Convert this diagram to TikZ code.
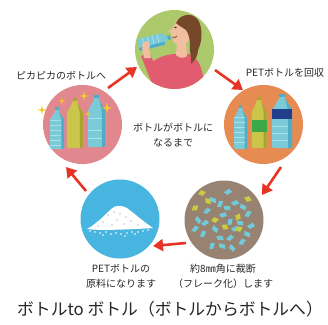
\documentclass[tikz,border=0pt]{standalone}
\usepackage{fontspec}
\setmainfont{Noto Sans CJK JP}
\usetikzlibrary{arrows.meta}

\definecolor{cgreen}{RGB}{172,202,108}
\definecolor{cpink}{RGB}{224,136,142}
\definecolor{corange}{RGB}{230,140,82}
\definecolor{cbrown}{RGB}{152,130,114}
\definecolor{cblue}{RGB}{72,180,224}
\definecolor{cred}{RGB}{232,52,36}
\definecolor{bottleblue}{RGB}{122,202,216}
\definecolor{bottleshade}{RGB}{78,172,198}
\definecolor{bottlerib}{RGB}{170,224,232}
\definecolor{bottleyel}{RGB}{202,198,74}
\definecolor{bottleyelshade}{RGB}{168,164,48}
\definecolor{labelgreen}{RGB}{60,168,72}
\definecolor{labelblue}{RGB}{32,62,140}
\definecolor{spark}{RGB}{246,202,40}
\definecolor{skin}{RGB}{242,190,160}
\definecolor{hair}{RGB}{118,72,42}
\definecolor{shirt}{RGB}{226,92,112}
\definecolor{flakecyan}{RGB}{112,202,216}
\definecolor{flakeyel}{RGB}{204,204,64}

% PET bottle: centre x, cap top y, half width, base y, body colour, shade colour
\newcommand\drawbottle[6]{%
  \pgfmathsetmacro\btlsh{#2+0.3*(#4-#2)}%
  \fill[#6] ({#1-0.26*#3},#2) rectangle ({#1+0.26*#3},{#2+3});
  \fill[#5] ({#1-0.32*#3},{#2+3}) -- ({#1+0.32*#3},{#2+3}) -- ({#1+0.32*#3},{#2+5})
    -- ({#1+#3},\btlsh) -- ({#1+#3},{#4-1.5}) -- ({#1+#3-1.5},#4) -- ({#1-#3+1.5},#4)
    -- ({#1-#3},{#4-1.5}) -- ({#1-#3},\btlsh) -- ({#1-0.32*#3},{#2+5}) -- cycle;
  \fill[#6] ({#1+0.32*#3},{#2+5}) -- ({#1+#3},\btlsh) -- ({#1+#3},{#4-1.5})
    -- ({#1+#3-1.5},#4) -- ({#1+0.62*#3},#4) -- ({#1+0.62*#3},\btlsh) -- cycle;
}
% bottle ribs: centre x, half width, list of y
\newcommand\bottleribs[3]{%
  \foreach \ry in {#3} {\fill[bottlerib] ({#1-#2},\ry) rectangle ({#1+0.62*#2},{\ry+0.9});}
}
% four-point sparkle: x, y, size
\newcommand\sparkle[3]{%
  \fill[spark] (#1,{#2-#3}) -- ({#1+0.18*#3},{#2-0.18*#3}) -- ({#1+#3},#2)
    -- ({#1+0.18*#3},{#2+0.18*#3}) -- (#1,{#2+#3}) -- ({#1-0.18*#3},{#2+0.18*#3})
    -- ({#1-#3},#2) -- ({#1-0.18*#3},{#2-0.18*#3}) -- cycle;
}

\begin{document}
\begin{tikzpicture}[x=1pt,y=-1pt,
  stage/.style={circle, minimum size=79pt, inner sep=0pt},
  cyc/.style={draw=cred, line width=2.6pt, -{Triangle[length=10pt,width=12pt]}},
  lbl/.style={font=\fontsize{10}{15}\selectfont, align=center, inner sep=0pt, text=black!85}]
\useasboundingbox (0,0) rectangle (328,324);

% ---- the five stages ----
\node[stage, fill=cgreen]  (drink)   at (174.5,49.5) {};
\node[stage, fill=corange] (collect) at (263.5,124.5) {};
\node[stage, fill=cbrown]  (flake)   at (224,220) {};
\node[stage, fill=cblue]   (resin)   at (120,219) {};
\node[stage, fill=cpink]   (shine)   at (82.5,124.5) {};

% drinking woman
\begin{scope}
  \clip (drink.center) circle[radius=39.5pt];
  \fill[shirt] (152,62) .. controls (162,55) and (170,54) .. (178,54) -- (189,54)
     .. controls (198,57) and (203,66) .. (205,92) -- (150,92) -- cycle;
  \fill[shirt] (141,56) -- (149,52) -- (162,80) -- (153,86) -- cycle;
  \fill[skin] (177,42) -- (186,42) -- (187,56) .. controls (183,59) and (179,58) .. (176,55) -- cycle;
  \fill[skin] (178,19) .. controls (175,23) and (174,26) .. (173,28) -- (168.5,31.5)
     -- (171.5,33.5) -- (170.5,36) -- (172.5,38) -- (172.5,41)
     .. controls (175,45) and (181,46) .. (187,43) -- (193,34) -- (191,21) -- cycle;
  \fill[hair] (176,23) .. controls (180,13) and (196,11) .. (200,24)
     .. controls (203,34) and (201,44) .. (198,50) .. controls (198,56) and (195,60) .. (191,64)
     .. controls (192,57) and (189,52) .. (190,46) .. controls (190,40) and (189,34) .. (186,30)
     .. controls (182,27) and (179,26) .. (176,23) -- cycle;
  \fill[hair!70!black] (175.5,27.5) ellipse[x radius=1.3pt, y radius=0.8pt];
  \draw[hair!70!black, line width=0.6pt] (172,37) .. controls (174,38) and (176,37.5) .. (177,36);
  \begin{scope}[rotate around={14:(155,41)}]
    \fill[bottleblue] (138,35) rectangle (164,47);
    \fill[bottleblue] (164,37) -- (168,39) -- (168,43) -- (164,45) -- cycle;
    \fill[bottleshade] (168,39) rectangle (171,43);
    \foreach \rx in {143,148,153,158} {\fill[bottlerib] (\rx,35) rectangle (\rx+0.9,47);}
    \fill[bottleshade] (138,44) rectangle (164,47);
  \end{scope}
  \fill[skin] (146,46) ellipse[x radius=4pt, y radius=5pt];
  \fill[skin] (142,48) -- (149,48) -- (151,58) -- (144,58) -- cycle;
\end{scope}

% collected bottles
\drawbottle{240.5}{105}{6.5}{149}{bottleblue}{bottleshade}
\bottleribs{240.5}{6.5}{117,122,127,132,137,142}
\drawbottle{259}{97}{7.5}{148}{bottleyel}{bottleyelshade}
\fill[labelgreen] (251.5,120) rectangle (266.5,132);
\drawbottle{282}{94}{10}{148}{bottleblue}{bottleshade}
\fill[labelblue] (272,109) rectangle (292,119);
\bottleribs{282}{10}{126,133,140}

% flakes
\foreach \fx/\fy/\fr in {228/192/20, 213/200/-30, 220/204/60, 235/203/10, 243/207/-40,
    207/211/35, 227/208/-15, 248/214/50, 223/215/5, 198/220/-60, 205/223/25, 230/222/70,
    240/223/-20, 195/229/40, 215/229/-50, 235/229/15, 247/234/-35, 203/234/55, 220/238/-10,
    230/238/30, 212/246/65, 222/246/-25, 242/242/45, 232/248/-55, 251/226/20}
  {\fill[flakecyan, rotate around={\fr:(\fx,\fy)}] (\fx-4,\fy-1.2) -- (\fx+2.4,\fy-2.6) -- (\fx+4,\fy+1.4) -- (\fx-1.8,\fy+2.4) -- cycle;}
\foreach \fx/\fy/\fr in {202/193/15, 248/199/-20, 195/208/40, 208/201/-45, 215/220/10,
    238/217/60, 225/227/-30, 239/229/25}
  {\fill[flakeyel, rotate around={\fr:(\fx,\fy)}] (\fx-4,\fy) -- (\fx,\fy-3) -- (\fx+4,\fy) -- (\fx,\fy+3) -- cycle;}

% resin powder
\fill[white] (87,229) .. controls (96,224) and (104,216) .. (111,209)
   .. controls (115,205) and (122,205) .. (127,208)
   .. controls (135,214) and (144,222) .. (153,228)
   .. controls (140,229) and (100,231) .. (87,229) -- cycle;
\foreach \dx/\dy in {90/231,95/232,100/233,106/232,111/234,116/233,121/234,127/233,
    132/232,138/232,143/231,148/230,103/235,125/236,135/234}
  {\fill[white] (\dx,\dy) circle[radius=0.9pt];}
\foreach \dx/\dy in {108/215,114/212,120/214,126/217,117/220,131/221,103/222,112/225,124/224,138/225,98/226}
  {\fill[black!22] (\dx,\dy) circle[radius=0.8pt];}

% sparkling bottles
\drawbottle{57}{107}{7}{149}{bottleblue}{bottleshade}
\bottleribs{57}{7}{120,125,130,135,140,145}
\drawbottle{75}{98}{8}{148}{bottleyel}{bottleyelshade}
\drawbottle{96.5}{95}{8.5}{147}{bottleblue}{bottleshade}
\bottleribs{96.5}{8.5}{118,130,138}
\sparkle{42}{110}{5}
\sparkle{62}{101}{4}
\sparkle{84}{96}{5}
\sparkle{88}{114}{3.5}
\sparkle{107}{108}{5.5}

% ---- connectors ----
\coordinate (a1s) at (108,88);  \coordinate (a1e) at (137,67);
\coordinate (a2s) at (215,70);  \coordinate (a2e) at (243,90);
\coordinate (a3s) at (281,167); \coordinate (a3e) at (262,195);
\coordinate (a4s) at (186,243); \coordinate (a4e) at (153,246);
\coordinate (a5s) at (86,191);  \coordinate (a5e) at (66,167);
\draw[cyc] (a1s) -- (a1e);
\draw[cyc] (a2s) -- (a2e);
\draw[cyc] (a3s) -- (a3e);
\draw[cyc] (a4s) -- (a4e);
\draw[cyc] (a5s) -- (a5e);

% ---- labels ----
\node[lbl] (tshine)   at (61,76)    {ピカピカのボトルへ};
\node[lbl] (tcollect) at (285,73)   {PETボトルを回収};
\node[lbl] (tcentre)  at (173,135)  {ボトルがボトルに\\なるまで};
\node[lbl] (tresin)   at (121,276.5) {PETボトルの\\原料になります};
\node[lbl] (tflake)   at (223,276.5) {約8㎜角に裁断\\（フレーク化）します};
\node[inner sep=0pt, font=\fontsize{16.8}{18}\selectfont, text=black!85] (title) at (170,309)
  {ボトルto ボトル（ボトルからボトルへ）};
\end{tikzpicture}
\end{document}
